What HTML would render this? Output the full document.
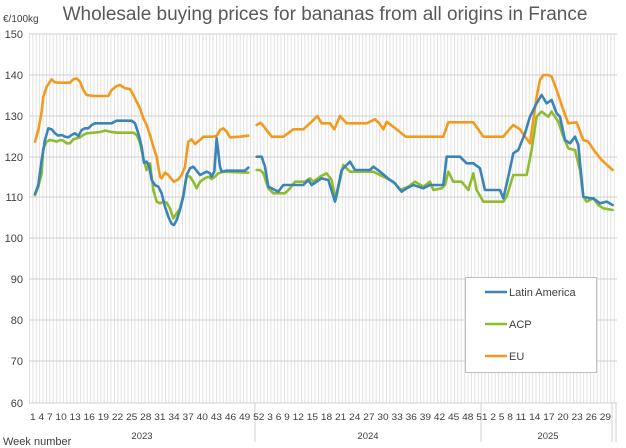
<!DOCTYPE html>
<html><head><meta charset="utf-8"><style>
body{margin:0;background:#fff;}
svg{display:block;font-family:"Liberation Sans",sans-serif;}
</style></head><body>
<svg width="626" height="448" viewBox="0 0 626 448">
<defs>
<pattern id="vg" x="29" y="0" width="3.4" height="448" patternUnits="userSpaceOnUse">
<rect x="0" y="0" width="0.8" height="448" fill="#dcdcdc"/>
</pattern>
</defs>
<rect width="626" height="448" fill="#fff"/>
<text x="325" y="20" font-size="19" fill="#595959" text-anchor="middle">Wholesale buying prices for bananas from all origins in France</text>
<text x="3" y="22" font-size="10" fill="#404040">€/100kg</text>
<rect x="29" y="34" width="588" height="369" fill="url(#vg)"/>
<g stroke="#d0d0d0" stroke-width="1">
<line x1="29" x2="617" y1="34" y2="34"/><line x1="29" x2="617" y1="75" y2="75"/>
<line x1="29" x2="617" y1="116" y2="116"/><line x1="29" x2="617" y1="157" y2="157"/>
<line x1="29" x2="617" y1="197" y2="197"/><line x1="29" x2="617" y1="238" y2="238"/>
<line x1="29" x2="617" y1="279" y2="279"/><line x1="29" x2="617" y1="320" y2="320"/>
<line x1="29" x2="617" y1="361" y2="361"/><line x1="29" x2="617" y1="403" y2="403"/>
<line x1="255" x2="255" y1="403" y2="442"/><line x1="481" x2="481" y1="403" y2="442"/>
<line x1="612" x2="612" y1="403" y2="442"/><line x1="616" x2="616" y1="403" y2="442"/>
</g>
<g font-size="11" fill="#404040" text-anchor="end">
<text x="23" y="38">150</text><text x="23" y="79">140</text><text x="23" y="120">130</text>
<text x="23" y="161">120</text><text x="23" y="201">110</text><text x="23" y="242">100</text>
<text x="23" y="283">90</text><text x="23" y="324">80</text><text x="23" y="365">70</text><text x="23" y="407">60</text>
</g>
<text x="30" y="420" font-size="9.5" fill="#404040" textLength="581" lengthAdjust="spacingAndGlyphs">1  4  7  10 13 16 19 22 25 28 31 34 37 40 43 46 49 52  3  6  9  12 15 18 21 24 27 30 33 36 39 42 45 48 51  2  5  8  11 14 17 20 23 26 29</text>
<g font-size="9.5" fill="#404040" text-anchor="middle">
<text x="142" y="439">2023</text><text x="368" y="439">2024</text><text x="548" y="439">2025</text>
</g>
<text x="3" y="445" font-size="11" fill="#404040">Week number</text>

<g fill="none" stroke-width="2.6" stroke-linejoin="round" stroke-linecap="round">
<g transform="translate(0,20) scale(0.3333)">
<polyline vector-effect="non-scaling-stroke" stroke="#f39a1e" points="105,365 115,330 125,275 130,230 140,200 155,178 165,187 175,188 210,188 220,178 230,175 240,185 250,210 260,225 280,228 325,228 335,210 350,198 360,195 375,205 390,207 400,225 410,245 420,265 430,295 440,315 450,345 460,380 470,410 480,470 485,475 495,458 505,465 515,478 522,485 535,478 545,465 555,440 560,400 565,365 575,358 585,372 600,360 610,350 640,350 650,348 660,330 670,325 680,335 690,352 720,350 745,347"/>
<polyline vector-effect="non-scaling-stroke" stroke="#8fbc2f" points="105,525 115,500 125,460 130,385 140,365 150,360 160,362 170,365 180,360 190,362 200,370 210,370 220,358 230,355 240,352 250,345 260,340 280,338 300,336 315,332 330,335 350,338 400,338 410,345 420,368 430,415 440,450 450,430 460,510 470,545 480,550 490,545 500,548 510,565 520,595 530,580 540,565 550,525 560,468 570,470 580,485 590,505 600,485 615,475 625,470 635,477 645,470 655,460 670,455 745,458"/>
<polyline vector-effect="non-scaling-stroke" stroke="#3a84b8" points="105,522 115,495 125,420 135,360 145,325 155,328 165,340 175,347 185,345 195,350 205,352 215,345 225,340 235,348 245,330 255,325 265,325 275,315 285,310 335,310 350,302 395,302 405,310 415,340 425,380 432,428 440,425 448,440 455,480 465,495 475,500 485,520 495,560 505,590 515,612 522,615 530,600 540,570 550,530 560,465 570,445 580,440 590,452 600,465 610,460 620,455 630,460 635,470 643,455 650,355 660,440 665,455 680,452 735,452 745,443"/>
</g>
<g transform="translate(240,90) scale(0.3333)">
<polyline vector-effect="non-scaling-stroke" stroke="#f39a1e" points="50,105 62,98 72,110 95,140 130,140 160,118 190,118 215,95 232,78 245,100 270,100 283,118 300,78 320,100 380,100 405,88 418,100 430,118 440,95 470,118 497,140 610,140 625,97 700,97 730,140 790,140 808,118 820,105 840,118 870,160 880,90 890,20 900,-30 910,-45 925,-45 935,-40 950,0 970,60 985,100 1010,97 1030,150 1045,155 1065,185 1085,210 1118,240"/>
<polyline vector-effect="non-scaling-stroke" stroke="#8fbc2f" points="50,240 60,240 70,250 85,295 100,310 135,310 150,295 165,275 195,275 210,265 220,275 240,260 260,250 275,270 287,330 310,225 330,245 400,245 440,265 460,275 480,300 505,290 525,275 550,290 570,275 580,300 605,295 615,285 625,245 640,275 665,275 685,300 700,250 710,300 730,335 790,335 800,320 820,255 860,255 875,180 890,80 905,65 925,80 935,65 955,95 970,140 985,175 1005,180 1020,240 1030,320 1040,335 1060,325 1075,345 1090,355 1118,360"/>
<polyline vector-effect="non-scaling-stroke" stroke="#3a84b8" points="50,200 65,200 75,230 85,290 115,305 130,285 190,285 205,270 215,285 245,265 265,270 285,335 305,240 330,215 345,240 390,240 400,230 420,245 450,270 465,280 485,305 500,295 520,285 550,295 570,285 610,285 620,200 660,200 680,220 700,220 720,235 735,300 780,300 790,325 805,260 820,190 835,180 855,130 870,80 890,40 905,15 920,40 935,30 950,70 960,80 975,150 990,160 1005,140 1015,165 1030,320 1050,325 1060,325 1080,340 1100,335 1118,345"/>
</g>
</g>

<rect x="465.5" y="277.5" width="131" height="95" fill="#fff" stroke="#bfbfbf"/>
<g stroke-width="2.6">
<line x1="485" x2="507" y1="292" y2="292" stroke="#3a84b8"/>
<line x1="485" x2="507" y1="324" y2="324" stroke="#8fbc2f"/>
<line x1="485" x2="507" y1="356" y2="356" stroke="#f39a1e"/>
</g>
<g font-size="11" fill="#404040">
<text x="509" y="296">Latin America</text><text x="509" y="328">ACP</text><text x="509" y="360">EU</text>
</g>
</svg>
</body></html>
